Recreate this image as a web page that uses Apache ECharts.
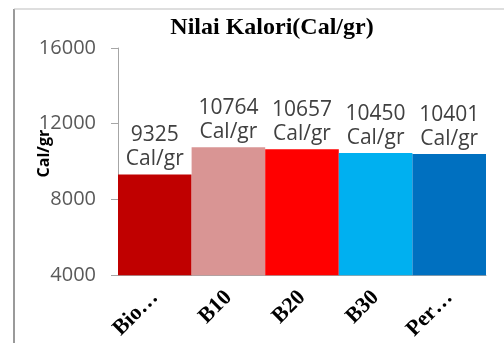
<!DOCTYPE html>
<html>
<head>
<meta charset="utf-8">
<script src="https://cdn.jsdelivr.net/npm/echarts@6/dist/echarts.min.js"></script>
<style>
html,body{margin:0;padding:0;background:#fff;}
#chart{width:504px;height:343px;}
</style>
</head>
<body>
<div id="chart"></div>
<script>
const categories = ["Bio…", "B10", "B20", "B30", "Per…"];
const values = [9325, 10764, 10657, 10450, 10401];
const barColors = ["#C00000", "#D99594", "#FF0000", "#00B0F0", "#0070C0"];
const yTicks = { min: 4000, max: 16000, interval: 4000 };
const titleText = "Nilai Kalori(Cal/gr)";
const yName = "Cal/gr";
const unit = "Cal/gr";

const chart = echarts.init(document.getElementById('chart'), null, { renderer: 'canvas' });
chart.setOption({
  animation: false,
  backgroundColor: '#ffffff',
  title: {
    text: titleText,
    left: 267, top: 11, textAlign: 'center',
    textStyle: { fontFamily: 'Liberation Serif', fontWeight: 'bold', fontSize: 24, color: '#000' }
  },
  graphic: [
    { type: 'line', shape: { x1: 14, y1: 9, x2: 14, y2: 343 }, style: { stroke: '#9a9a9a', lineWidth: 2 } },
    { type: 'line', shape: { x1: 14, y1: 9, x2: 504, y2: 9 }, style: { stroke: '#bdbdbd', lineWidth: 1 } }
  ],
  grid: { left: 118, right: 18, top: 48, bottom: 66, containLabel: false },
  xAxis: {
    type: 'category',
    data: categories,
    axisLine: { show: true, lineStyle: { color: '#A6A6A6', width: 1 } },
    axisTick: { show: false },
    axisLabel: {
      interval: 0, rotate: 45, margin: 19,
      fontFamily: 'Liberation Serif', fontWeight: 'bold', fontSize: 22, color: '#000'
    }
  },
  yAxis: {
    type: 'value',
    min: yTicks.min, max: yTicks.max, interval: yTicks.interval,
    name: yName,
    nameLocation: 'middle',
    nameGap: 66,
    nameMoveOverlap: false,
    nameRotate: 90,
    nameTextStyle: { fontFamily: 'Open Sans', fontWeight: 'bold', fontSize: 16, color: '#000', padding: [0, 0, 0, 16] },
    axisLine: { show: true, lineStyle: { color: '#A6A6A6', width: 1 } },
    axisTick: { show: true, inside: false, length: 7, lineStyle: { color: '#A6A6A6' } },
    splitLine: { show: false },
    axisLabel: { margin: 22, fontFamily: 'Open Sans', fontSize: 20, color: '#595959', formatter: v => String(v) }
  },
  series: [{
    type: 'bar',
    data: values.map((v, i) => ({ value: v, itemStyle: { color: barColors[i] } })),
    barCategoryGap: '0%',
    barGap: '0%',
    label: {
      show: true, position: 'top', distance: 3,
      formatter: p => p.value + '\n' + unit,
      fontFamily: 'Open Sans', fontSize: 21, lineHeight: 24, color: '#404040'
    }
  }]
});
</script>
</body>
</html>
